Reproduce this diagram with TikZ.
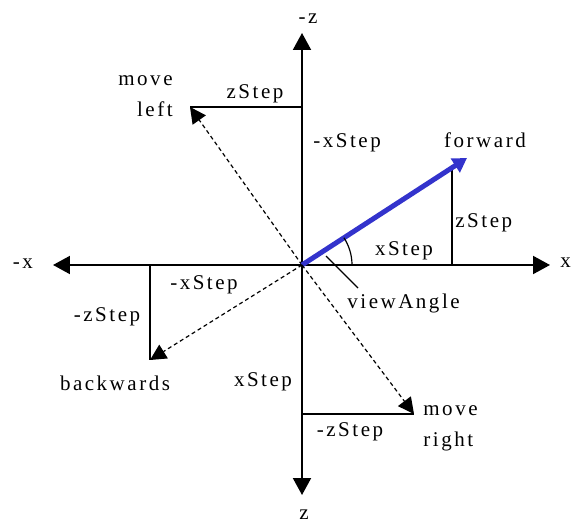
\documentclass[tikz,border=0pt]{standalone}
\usepackage{fontspec}
\setmainfont{Liberation Serif}[LetterSpace=12]
\usetikzlibrary{arrows.meta,positioning}
\definecolor{fwblue}{RGB}{51,51,204}
\tikzstyle{axis} = [line width=1pt, -{Triangle[length=8.5pt,width=9pt]}]
\tikzstyle{part} = [line width=0.8pt]
\tikzstyle{dashvec} = [line width=0.6pt, dash pattern=on 2pt off 1.5pt, -{Triangle[length=8pt,width=8pt]}]
\tikzstyle{fwvec} = [line width=2.5pt, draw=fwblue, -{Triangle[length=7pt,width=8pt]}]
\tikzstyle{lbl} = [inner sep=0pt, font=\fontsize{10.5}{15.5}\selectfont]

\begin{document}
\begin{tikzpicture}[x=0.5pt, y=0.5pt]
        \useasboundingbox (-302,-258) rectangle (269,265);
        % axes
        \coordinate (o) at (0,0);
        \coordinate (top) at (0,232);
        \coordinate (bot) at (0,-230);
        \coordinate (rgt) at (248,0);
        \coordinate (lft) at (-249,0);
        \draw [axis] (o) -- (top);
        \draw [axis] (o) -- (bot);
        \draw [axis] (o) -- (rgt);
        \draw [axis] (o) -- (lft);
        \node (mz) [lbl] at (6,246) {-z};
        \node (pz) [lbl] at (2,-250) {z};
        \node (px) [lbl, anchor=west] at (258,2) {x};
        \node (mx) [lbl] at (-279,1) {-x};

        % move left
        \coordinate (mlz) at (0,158);
        \coordinate (ml) at (-112,158);
        \draw [part] (mlz) -- (ml);
        \draw [dashvec] (o) -- (ml);
        \node (mlzstep) [lbl] at (-47,171) {zStep};
        \node (mlxstep) [lbl, anchor=west] at (11,122) {-xStep};
        \node (mleft) [lbl, align=right, anchor=east] at (-129,169) {move\\left};

        % forward
        \coordinate (fwx) at (150,0);
        \coordinate (fwc) at (150,97);
        \coordinate (fw) at (165,107);
        \draw [part] (fwx) -- (fwc);
        \draw [fwvec] (o) -- (fw);
        \node (forward) [lbl] at (183,125) {forward};
        \node (fwzstep) [lbl, anchor=west] at (153,42) {zStep};
        \node (fwxstep) [lbl] at (102,14) {xStep};
        \draw [line width=0.6pt] (50,0) arc (0:33:50);

        % view angle
        \coordinate (vaa) at (24,9);
        \coordinate (vab) at (56,-23);
        \draw [line width=0.6pt] (vaa) -- (vab);
        \node (viewangle) [lbl, anchor=west] at (45,-38) {viewAngle};

        % move right
        \coordinate (mrz) at (0,-149);
        \coordinate (mr) at (112,-149);
        \draw [part] (mrz) -- (mr);
        \draw [dashvec] (o) -- (mr);
        \node (mrzstep) [lbl] at (48,-167) {-zStep};
        \node (mrxstep) [lbl] at (-39,-117) {xStep};
        \node (mright) [lbl, align=left, anchor=west] at (121,-163) {move\\right};

        % backwards
        \coordinate (bkx) at (-152,0);
        \coordinate (bk) at (-152,-95);
        \draw [part] (bkx) -- (bk);
        \draw [dashvec] (o) -- (bk);
        \node (bkzstep) [lbl] at (-195,-52) {-zStep};
        \node (bkxstep) [lbl] at (-98,-20) {-xStep};
        \node (backwards) [lbl] at (-187,-118) {backwards};
    \end{tikzpicture}
\end{document}
